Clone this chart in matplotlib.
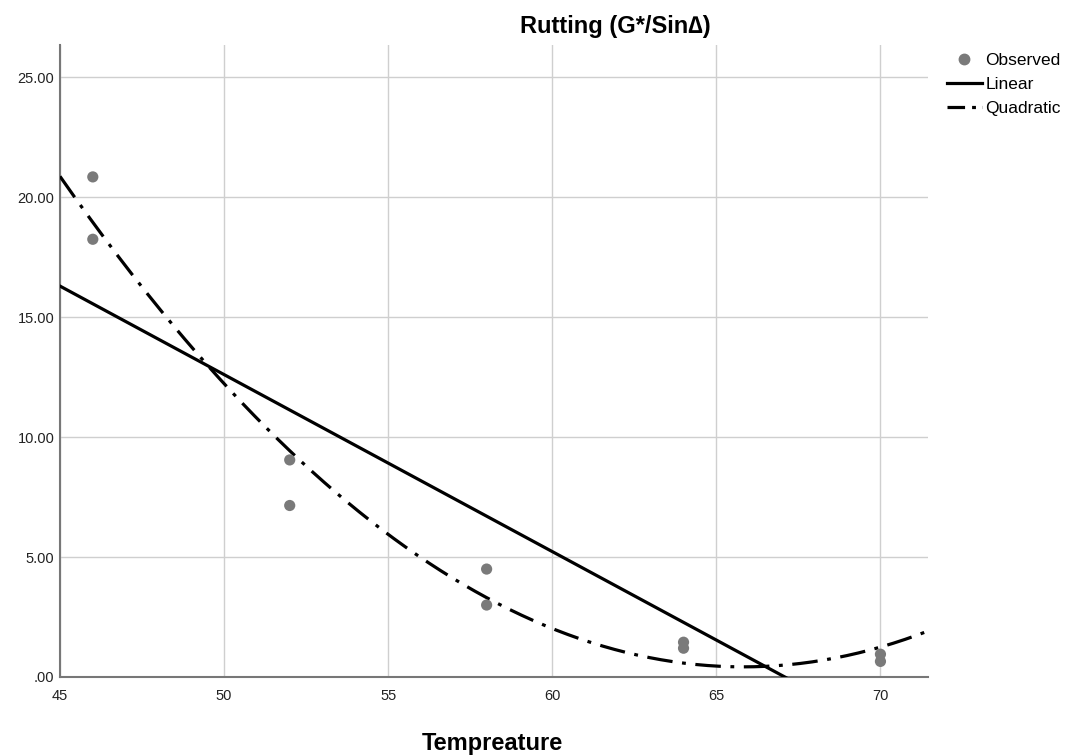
import matplotlib.pyplot as plt
import numpy as np
from matplotlib.lines import Line2D
from matplotlib.ticker import FuncFormatter

plt.rcParams['font.family'] = ['Liberation Sans', 'DejaVu Sans']

# observed values (two specimens per temperature)
temperature = [46, 46, 52, 52, 58, 58, 64, 64, 70, 70]
rutting = [20.85, 18.25, 9.05, 7.15, 4.5, 3.0, 1.45, 1.2, 0.95, 0.65]

x_ticks = [45, 50, 55, 60, 65, 70]
y_ticks = [0, 5, 10, 15, 20, 25]

# fitted curves
lin = np.polyfit(temperature, rutting, 1)
quad = np.polyfit(temperature, rutting, 2)

fig = plt.figure(figsize=(10.73, 7.56), dpi=100)
ax = fig.add_axes([0.0559, 0.1045, 0.809, 0.836])

xmin, xmax = 45, 71.45
xs = np.linspace(xmin, xmax, 300)
dashdot = (0, (8, 3, 1.2, 3))

ax.plot(xs, np.polyval(lin, xs), color='black', lw=2.3, zorder=3)
ax.plot(xs, np.polyval(quad, xs), color='black', lw=2.3,
        linestyle=dashdot, zorder=3)
ax.scatter(temperature, rutting, s=65, color='#7a7a7a', edgecolors='none', zorder=4)

ax.set_xlim(xmin, xmax)
ax.set_ylim(0, 26.35)
ax.set_xticks(x_ticks)
ax.set_yticks(y_ticks)
ax.yaxis.set_major_formatter(FuncFormatter(lambda v, p: f"{v:.2f}".lstrip('0') if v < 1 else f"{v:.2f}"))
ax.grid(True, color='#cfcfcf', lw=1)
ax.set_axisbelow(True)
for s in ['top', 'right']:
    ax.spines[s].set_visible(False)
for s in ['left', 'bottom']:
    ax.spines[s].set_color('#777777')
    ax.spines[s].set_linewidth(1.5)
ax.tick_params(length=0, labelsize=10.5, colors='#222222')
ax.tick_params(axis='x', pad=9)
ax.tick_params(axis='y', pad=4)

fig.text(0.573, 0.965, 'Rutting (G*/Sin\u2206)', ha='center', va='center',
         fontsize=17, fontweight='bold')
fig.text(0.459, 0.017, 'Tempreature', ha='center', va='center',
         fontsize=17, fontweight='bold')

handles = [
    Line2D([], [], marker='o', linestyle='none', color='#7a7a7a', markersize=7.5),
    Line2D([], [], color='black', lw=2.3),
    Line2D([], [], color='black', lw=2.3, linestyle=(0, (5.5, 2.2, 1.2, 2))),
]
fig.legend(handles, ['Observed', 'Linear', 'Quadratic'], loc='upper left',
           bbox_to_anchor=(0.8826, 0.93), frameon=False, fontsize=12.5,
           handlelength=2.0, handletextpad=0.2, labelspacing=0.5,
           borderaxespad=0, borderpad=0)

fig.savefig('out.png', dpi=100)
